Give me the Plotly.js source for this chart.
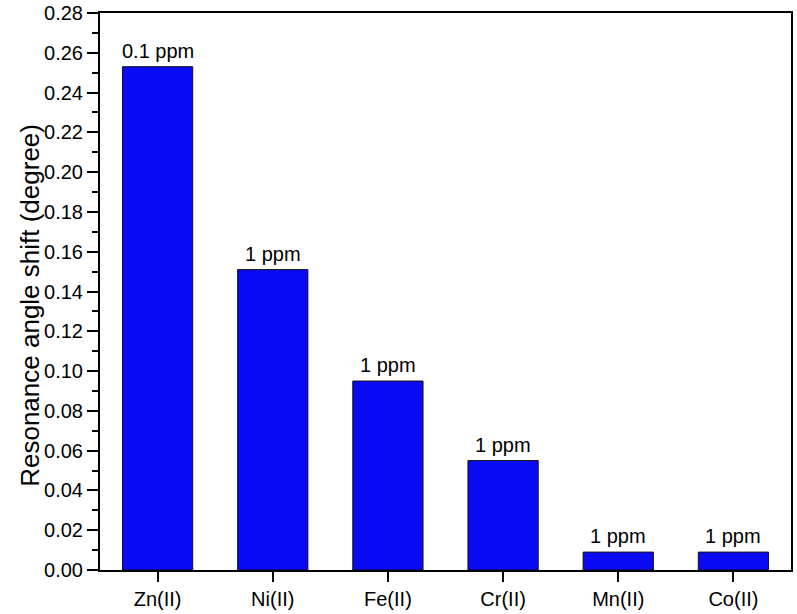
<!DOCTYPE html>
<html>
<head>
<meta charset="utf-8">
<script src="https://cdn.plot.ly/plotly-3.0.1.min.js"></script>
<style>
  html, body { margin: 0; padding: 0; background: #fff; }
  #chart { width: 797px; height: 614px; }
</style>
</head>
<body>
<div id="chart"></div>
<script>
const ions = ['Zn(II)', 'Ni(II)', 'Fe(II)', 'Cr(II)', 'Mn(II)', 'Co(II)'];
const angleShift = [0.253, 0.151, 0.095, 0.055, 0.009, 0.009];
const concLabels = ['0.1 ppm', '1 ppm', '1 ppm', '1 ppm', '1 ppm', '1 ppm'];

const fontFam = 'Arial, Liberation Sans, sans-serif';

const bars = {
    x: ions,
    y: angleShift,
    type: 'bar',
    marker: {
        color: '#0a0af5',
        line: { color: '#111', width: 1 }
    },
    hoverinfo: 'x+y'
};

// concentration labels sit just above each bar
const concNotes = ions.map((ion, i) => ({
    x: ion,
    y: angleShift[i],
    text: concLabels[i],
    showarrow: false,
    yanchor: 'bottom',
    yshift: 3,
    font: { family: fontFam, size: 20, color: '#000' }
}));

const yTitle = {
    text: 'Resonance angle shift (degree)',
    xref: 'paper',
    yref: 'paper',
    x: -0.126,
    y: 0.476,
    textangle: -90,
    showarrow: false,
    font: { family: fontFam, size: 26, color: '#000' }
};

const layout = {
    width: 797,
    height: 614,
    margin: { l: 100, r: 6, t: 13, b: 44 },
    paper_bgcolor: '#fff',
    plot_bgcolor: '#fff',
    bargap: 0.39,
    showlegend: false,
    font: { family: fontFam, color: '#000' },
    annotations: concNotes.concat([yTitle]),
    xaxis: {
        showline: true,
        linecolor: '#000',
        linewidth: 2,
        mirror: true,
        ticks: 'outside',
        ticklen: 10,
        tickwidth: 2,
        tickcolor: '#000',
        tickfont: { size: 20 },
        showgrid: false,
        zeroline: false
    },
    yaxis: {
        range: [0, 0.28],
        dtick: 0.02,
        tickformat: '.2f',
        showline: true,
        linecolor: '#000',
        linewidth: 2,
        mirror: true,
        ticks: 'outside',
        ticklen: 11,
        tickwidth: 2,
        tickcolor: '#000',
        tickfont: { size: 20 },
        minor: { dtick: 0.01, ticks: 'outside', ticklen: 6, tickwidth: 2, tickcolor: '#000', showgrid: false },
        showgrid: false,
        zeroline: false
    }
};

Plotly.newPlot('chart', [bars], layout, { displayModeBar: false, staticPlot: true });
</script>
</body>
</html>
